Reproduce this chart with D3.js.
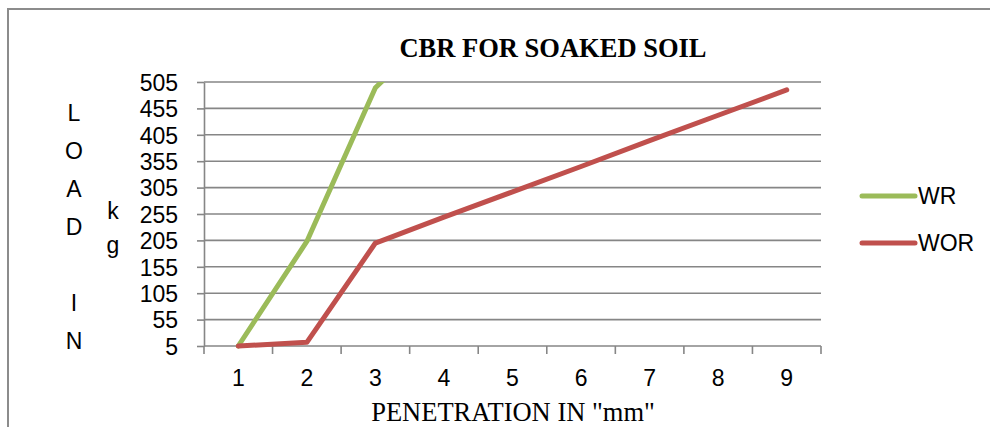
<!DOCTYPE html>
<html>
<head>
<meta charset="utf-8">
<script src="https://cdn.jsdelivr.net/npm/d3@7"></script>
<style>
  body { margin: 0; background: #fff; }
  svg { display: block; }
</style>
</head>
<body>
<div id="chart"></div>
<script>
// penetration categories (mm)
const categories = ["1", "2", "3", "4", "5", "6", "7", "8", "9"];
// load values in kg
const wrValues = [5, 203, 494, 620];
const worValues = [5, 12, 200, 249, 297, 345, 394, 442, 490];
const yTicks = [5, 55, 105, 155, 205, 255, 305, 355, 405, 455, 505];
const seriesNames = ["WR", "WOR"];
const seriesColors = ["#9bbb59", "#c0504d"];
const yTitleChars = ["L", "O", "A", "D", "", "I", "N"];
const yTitleChars2 = ["k", "g"];

const width = 990, height = 427;
const plot = { left: 204, right: 821, top: 82, bottom: 346 };

const svg = d3.select("#chart").append("svg")
  .attr("width", width)
  .attr("height", height);

// outer chart border (runs off the bottom/right edge)
svg.append("rect")
  .attr("x", 8).attr("y", 9)
  .attr("width", 1100).attr("height", 600)
  .attr("fill", "none")
  .attr("stroke", "#8c8c8c")
  .attr("stroke-width", 2);

const x = d3.scaleBand()
  .domain(categories)
  .range([plot.left, plot.right])
  .padding(0);

const y = d3.scaleLinear()
  .domain([5, 505])
  .range([plot.bottom, plot.top]);

// gridlines
svg.append("g")
  .selectAll("line")
  .data(yTicks.slice(1))
  .join("line")
  .attr("x1", plot.left)
  .attr("x2", plot.right)
  .attr("y1", d => y(d))
  .attr("y2", d => y(d))
  .attr("stroke", "#868686")
  .attr("stroke-width", 1.6);

// y axis
const yAxis = svg.append("g")
  .attr("transform", `translate(${plot.left},0)`)
  .call(d3.axisLeft(y).tickValues(yTicks).tickSize(7).tickPadding(19).tickSizeOuter(0));
yAxis.select(".domain").attr("stroke", "#868686").attr("stroke-width", 1.6);
yAxis.selectAll(".tick line").attr("stroke", "#868686").attr("stroke-width", 1.6);
yAxis.selectAll(".tick text")
  .attr("font-family", "'Liberation Sans', Arial, sans-serif")
  .attr("font-size", 23)
  .attr("fill", "#000")
  .attr("dy", "0.36em");

// x axis: ticks on category boundaries
const xAxis = svg.append("g")
  .attr("transform", `translate(0,${plot.bottom})`);
xAxis.append("line")
  .attr("x1", plot.left).attr("x2", plot.right)
  .attr("stroke", "#868686").attr("stroke-width", 1.6);
const bounds = categories.map(c => x(c)).concat([x(categories[categories.length - 1]) + x.bandwidth()]);
xAxis.selectAll(".xtick")
  .data(bounds)
  .join("line")
  .attr("class", "xtick")
  .attr("x1", d => d).attr("x2", d => d)
  .attr("y1", 0).attr("y2", 8)
  .attr("stroke", "#868686").attr("stroke-width", 1.6);
xAxis.selectAll(".xlabel")
  .data(categories)
  .join("text")
  .attr("class", "xlabel")
  .attr("x", d => x(d) + x.bandwidth() / 2)
  .attr("y", 40)
  .attr("text-anchor", "middle")
  .attr("font-family", "'Liberation Sans', Arial, sans-serif")
  .attr("font-size", 23)
  .text(d => d);

// clip lines at the top of the plot area
svg.append("clipPath").attr("id", "plotclip")
  .append("rect")
  .attr("x", 0).attr("y", plot.top)
  .attr("width", width).attr("height", height - plot.top);

const line = d3.line()
  .x((d, i) => x(categories[i]) + x.bandwidth() / 2)
  .y(d => y(d));

const series = [wrValues, worValues];
svg.append("g")
  .attr("clip-path", "url(#plotclip)")
  .selectAll("path")
  .data(series)
  .join("path")
  .attr("d", d => line(d))
  .attr("fill", "none")
  .attr("stroke", (d, i) => seriesColors[i])
  .attr("stroke-width", 5)
  .attr("stroke-linejoin", "round")
  .attr("stroke-linecap", "round");

// title
svg.append("text")
  .attr("x", 553).attr("y", 57)
  .attr("text-anchor", "middle")
  .attr("font-family", "'Liberation Serif', 'Times New Roman', serif")
  .attr("font-weight", "bold")
  .attr("font-size", 26.5)
  .text("CBR FOR SOAKED SOIL");

// x title
svg.append("text")
  .attr("x", 513).attr("y", 421)
  .attr("text-anchor", "middle")
  .attr("font-family", "'Liberation Serif', 'Times New Roman', serif")
  .attr("font-size", 26.5)
  .text('PENETRATION IN "mm"');

// stacked y title
svg.append("g").selectAll("text")
  .data(yTitleChars)
  .join("text")
  .attr("x", 74)
  .attr("y", (d, i) => 121 + i * 38)
  .attr("text-anchor", "middle")
  .attr("font-family", "'Liberation Sans', Arial, sans-serif")
  .attr("font-size", 23)
  .text(d => d);
svg.append("g").selectAll("text")
  .data(yTitleChars2)
  .join("text")
  .attr("x", 113)
  .attr("y", (d, i) => 219 + i * 34)
  .attr("text-anchor", "middle")
  .attr("font-family", "'Liberation Sans', Arial, sans-serif")
  .attr("font-size", 23)
  .text(d => d);

// legend
const legend = svg.append("g")
  .selectAll("g")
  .data(seriesNames)
  .join("g")
  .attr("transform", (d, i) => `translate(862,${196 + i * 47})`);
legend.append("line")
  .attr("x1", 0).attr("x2", 53)
  .attr("stroke", (d, i) => seriesColors[i])
  .attr("stroke-width", 5)
  .attr("stroke-linecap", "round");
legend.append("text")
  .attr("x", 56).attr("y", 8)
  .attr("font-family", "'Liberation Sans', Arial, sans-serif")
  .attr("font-size", 23)
  .text(d => d);
</script>
</body>
</html>
